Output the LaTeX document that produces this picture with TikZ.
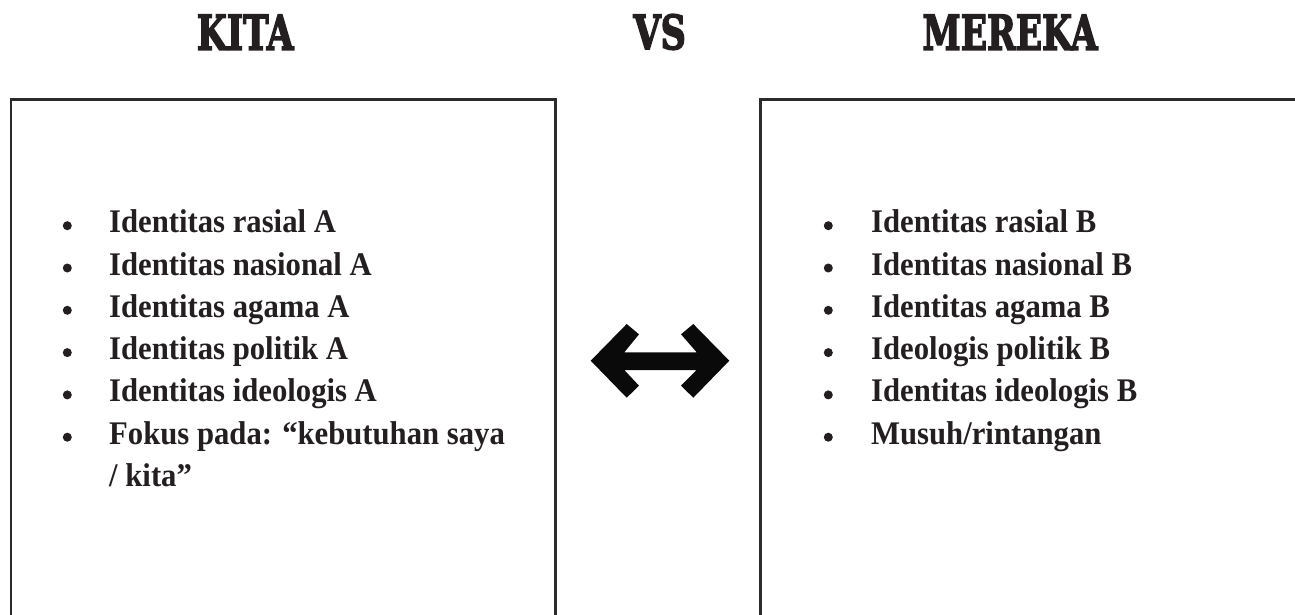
\documentclass[tikz,border=0pt]{standalone}
\usepackage{fontspec}
\setmainfont{Liberation Serif}
\newfontfamily\itemfont[FakeStretch=0.93]{Liberation Serif}
\newfontfamily\headfont[FakeBold=3.5]{DejaVu Serif}
\usepackage{graphicx}
\definecolor{ink}{HTML}{231F20}
\definecolor{boxline}{HTML}{2B2B2B}
\begin{document}
\begin{tikzpicture}[x=1pt,y=-1pt,
  item/.style={anchor=base west, inner sep=0pt, text=ink, font=\itemfont\bfseries\fontsize{33}{40}\selectfont},
  dot/.style={circle, fill=ink, inner sep=0pt, minimum size=9pt},
  head/.style={anchor=south west, inner sep=0pt, text=ink},
  frame/.style={draw=boxline, line width=2.7pt}]
\useasboundingbox (0,0) rectangle (1295,614);
\clip (0,0) rectangle (1295,614);
\fill[white] (0,0) rectangle (1295,614);

% headings
\node[head] (kita) at (196.7,50) {\resizebox{96.6pt}{35pt}{\headfont\bfseries KITA}};
\node[head] (vs) at (633.3,50) {\resizebox{52.4pt}{35pt}{\headfont\bfseries VS}};
\node[head] (mereka) at (922.3,50) {\resizebox{175pt}{35pt}{\headfont\bfseries MEREKA}};

% frames
\draw[frame] (11,630) -- (11,99.7) -- (555.8,99.7) -- (555.8,630);
\draw[frame] (760.5,630) -- (760.5,99.7) -- (1310,99.7);

% left list
\foreach \t [count=\i] in {Identitas rasial A, Identitas nasional A, Identitas agama A, Identitas politik A, Identitas ideologis A, {Fokus pada: “kebutuhan saya}}{
  \pgfmathsetmacro{\yb}{232.7+42.3*(\i-1)}
  \node[item] (l\i) at (109,\yb) {\t};
  \node[dot] (ld\i) at (67.3,\yb-7) {};
}
\node[item] (l7) at (109,486.5) {/ kita”};

% right list
\foreach \t [count=\i] in {Identitas rasial B, Identitas nasional B, Identitas agama B, Ideologis politik B, Identitas ideologis B, Musuh/rintangan}{
  \pgfmathsetmacro{\yb}{232.7+42.3*(\i-1)}
  \node[item] (r\i) at (871,\yb) {\t};
  \node[dot] (rd\i) at (828.3,\yb-7) {};
}

% double arrow
\fill[black!96] (590.7,360.7) -- (626.7,324) -- (639,334.3) -- (624.3,352.3)
  -- (696.7,352.3) -- (681,334.3) -- (693.3,324) -- (729.3,360.7)
  -- (693.3,397.7) -- (681,385.7) -- (696.7,370) -- (624.3,370)
  -- (639,385.7) -- (626.7,397.7) -- cycle;
\end{tikzpicture}
\end{document}
